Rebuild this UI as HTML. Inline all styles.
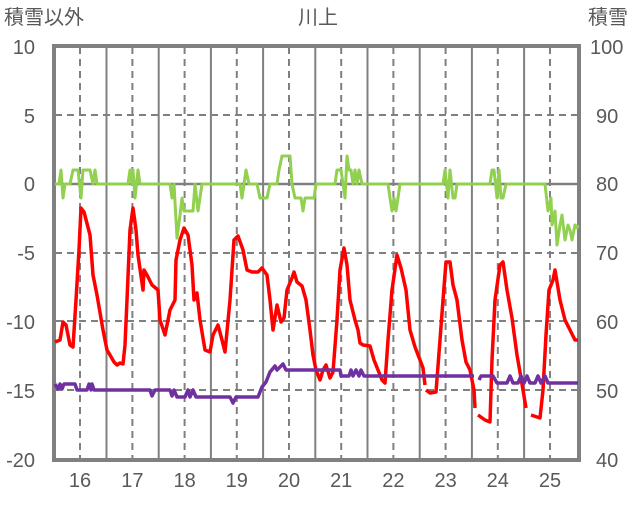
<!DOCTYPE html>
<html><head><meta charset="utf-8"><style>
body{margin:0;background:#fff;}
svg text{font-family:"Liberation Sans","Noto Sans CJK JP",sans-serif;fill:#595959;font-size:20px;}
</style></head><body>
<svg width="636" height="501" viewBox="0 0 636 501" xmlns="http://www.w3.org/2000/svg">
<rect width="636" height="501" fill="#fff"/>
<g stroke="#808080" stroke-width="2" stroke-dasharray="7,5">
<line x1="55" x2="580" y1="115" y2="115"/>
<line x1="55" x2="580" y1="253" y2="253"/>
<line x1="55" x2="580" y1="321" y2="321"/>
<line x1="55" x2="580" y1="390" y2="390"/>
<line x1="80" x2="80" y1="47" y2="460"/>
<line x1="132.4" x2="132.4" y1="47" y2="460"/>
<line x1="184.6" x2="184.6" y1="47" y2="460"/>
<line x1="236.8" x2="236.8" y1="47" y2="460"/>
<line x1="289" x2="289" y1="47" y2="460"/>
<line x1="341.2" x2="341.2" y1="47" y2="460"/>
<line x1="393.4" x2="393.4" y1="47" y2="460"/>
<line x1="445.6" x2="445.6" y1="47" y2="460"/>
<line x1="497.8" x2="497.8" y1="47" y2="460"/>
<line x1="550" x2="550" y1="47" y2="460"/>
</g>
<g stroke="#808080" stroke-width="2">
<line x1="106.5" x2="106.5" y1="47" y2="460"/>
<line x1="158.7" x2="158.7" y1="47" y2="460"/>
<line x1="210.9" x2="210.9" y1="47" y2="460"/>
<line x1="263.1" x2="263.1" y1="47" y2="460"/>
<line x1="315.3" x2="315.3" y1="47" y2="460"/>
<line x1="367.5" x2="367.5" y1="47" y2="460"/>
<line x1="419.7" x2="419.7" y1="47" y2="460"/>
<line x1="471.9" x2="471.9" y1="47" y2="460"/>
<line x1="524.1" x2="524.1" y1="47" y2="460"/>
<line x1="55" x2="580" y1="184" y2="184" stroke-width="2.5"/>
</g>
<rect x="54" y="46" width="525" height="414" fill="none" stroke="#808080" stroke-width="4"/>
<g fill="none" stroke-width="3.5" stroke-linejoin="round">
<polyline stroke="#92d050" stroke-width="3" points="55,184 59,184 61,170 63,198 65,184 70,184 73,170 78,170 81,198 83,170 90,170 93,184 95,170 97,184 128,184 130,170 132,184 133,170 135,198 138,170 140,184 170,184 172,198 174,184 177,238 180,215 182,198 184,211 193,211 195,184 198,211 202,184 240,184 242,198 246,170 249,184 257,184 260,198 267,198 270,184 277,184 279,170 282,156 290,156 292,184 295,198 301,198 303,211 305,198 314,198 316,184 335,184 337,170 341,170 345,198 347,156 349,170 351,170 353,184 355,170 357,184 359,170 362,184 388,184 390,198 392,211 394,198 396,211 398,198 400,184 443,184 445,170 448,198 450,170 453,198 455,198 457,184 490,184 492,170 494,170 497,198 499,170 501,198 503,198 506,184 545,184 548,211 551,198 552,225 555,211 557,245 560,225 562,215 565,240 568,225 570,230 572,240 575,225 577,228 578,225"/>
<polyline stroke="#ff0000" points="55,342 60,340 63,322 66,325 70,345 73,347 76,300 79,250 81,208 84,212 90,235 93,275 97,295 103,330 107,350 110,355 114,362 117,365 120,363 123,364 125,345 127,300 130,230 133,208 136,230 138,255 143,290 144,270 147,275 152,285 158,290 160,320 165,335 170,310 175,300 176,260 180,240 184,228 188,235 192,265 194,300 197,293 200,320 205,350 210,352 213,335 218,325 222,340 225,352 230,300 234,240 238,236 243,250 247,270 252,272 258,272 262,268 267,275 270,300 273,330 277,305 281,322 284,318 287,290 292,278 294,272 297,282 302,286 306,300 310,330 313,355 316,370 320,380 323,370 326,365 330,378 333,372 337,320 340,270 344,248 347,265 350,300 355,320 358,330 360,343 363,345 370,346 374,360 378,370 382,380 385,383 388,340 392,290 397,255 401,268 406,290 410,330 415,347 420,360 423,368 425,385"/>
<polyline stroke="#ff0000" points="426,390 430,393 436,392 440,340 443,300 446,262 450,262 453,285 457,300 462,340 466,362 470,370 474,390 475,408"/>
<polyline stroke="#ff0000" points="478,415 485,420 490,422 492,360 495,300 500,265 503,262 507,290 512,318 517,355 521,378 526,408"/>
<polyline stroke="#ff0000" points="531,415 540,418 543,390 546,335 549,290 553,280 555,270 560,300 565,320 570,330 575,340 578,340"/>
<polyline stroke="#7030a0" points="55,384 58,389 60,384 62,389 64,384 75,384 77,390 80,390 87,390 89,384 91,390 92,384 94,390 150,390 152,396 155,390 170,390 172,396 174,390 177,397 185,397 188,390 190,397 193,390 196,397 230,397 233,403 236,397 258,397 262,387 266,382 270,372 275,366 277,370 283,364 286,370 340,370 341,376 349,376 351,370 353,376 356,370 359,376 361,370 364,376 474,376"/>
<polyline stroke="#7030a0" points="479,380 481,376 493,376 497,383 507,383 510,376 513,383 518,383 521,376 524,383 527,376 530,383 535,383 538,376 541,383 545,376 548,383 578,383"/>
</g>
<g text-anchor="end">
<text x="35" y="54">10</text><text x="35" y="123">5</text><text x="35" y="191">0</text>
<text x="35" y="260">-5</text><text x="35" y="329">-10</text><text x="35" y="398">-15</text><text x="35" y="467">-20</text>
</g>
<g>
<text x="590" y="54">100</text><text x="596" y="123">90</text><text x="596" y="191">80</text>
<text x="596" y="260">70</text><text x="596" y="329">60</text><text x="596" y="398">50</text><text x="596" y="467">40</text>
</g>
<g text-anchor="middle">
<text x="80" y="487">16</text><text x="132.4" y="487">17</text><text x="184.6" y="487">18</text><text x="236.8" y="487">19</text><text x="289" y="487">20</text>
<text x="341.2" y="487">21</text><text x="393.4" y="487">22</text><text x="445.6" y="487">23</text><text x="497.8" y="487">24</text><text x="550" y="487">25</text>
<text x="318" y="24">川上</text>
</g>
<text x="4" y="24">積雪以外</text>
<text x="588" y="24">積雪</text>
</svg>
</body></html>
